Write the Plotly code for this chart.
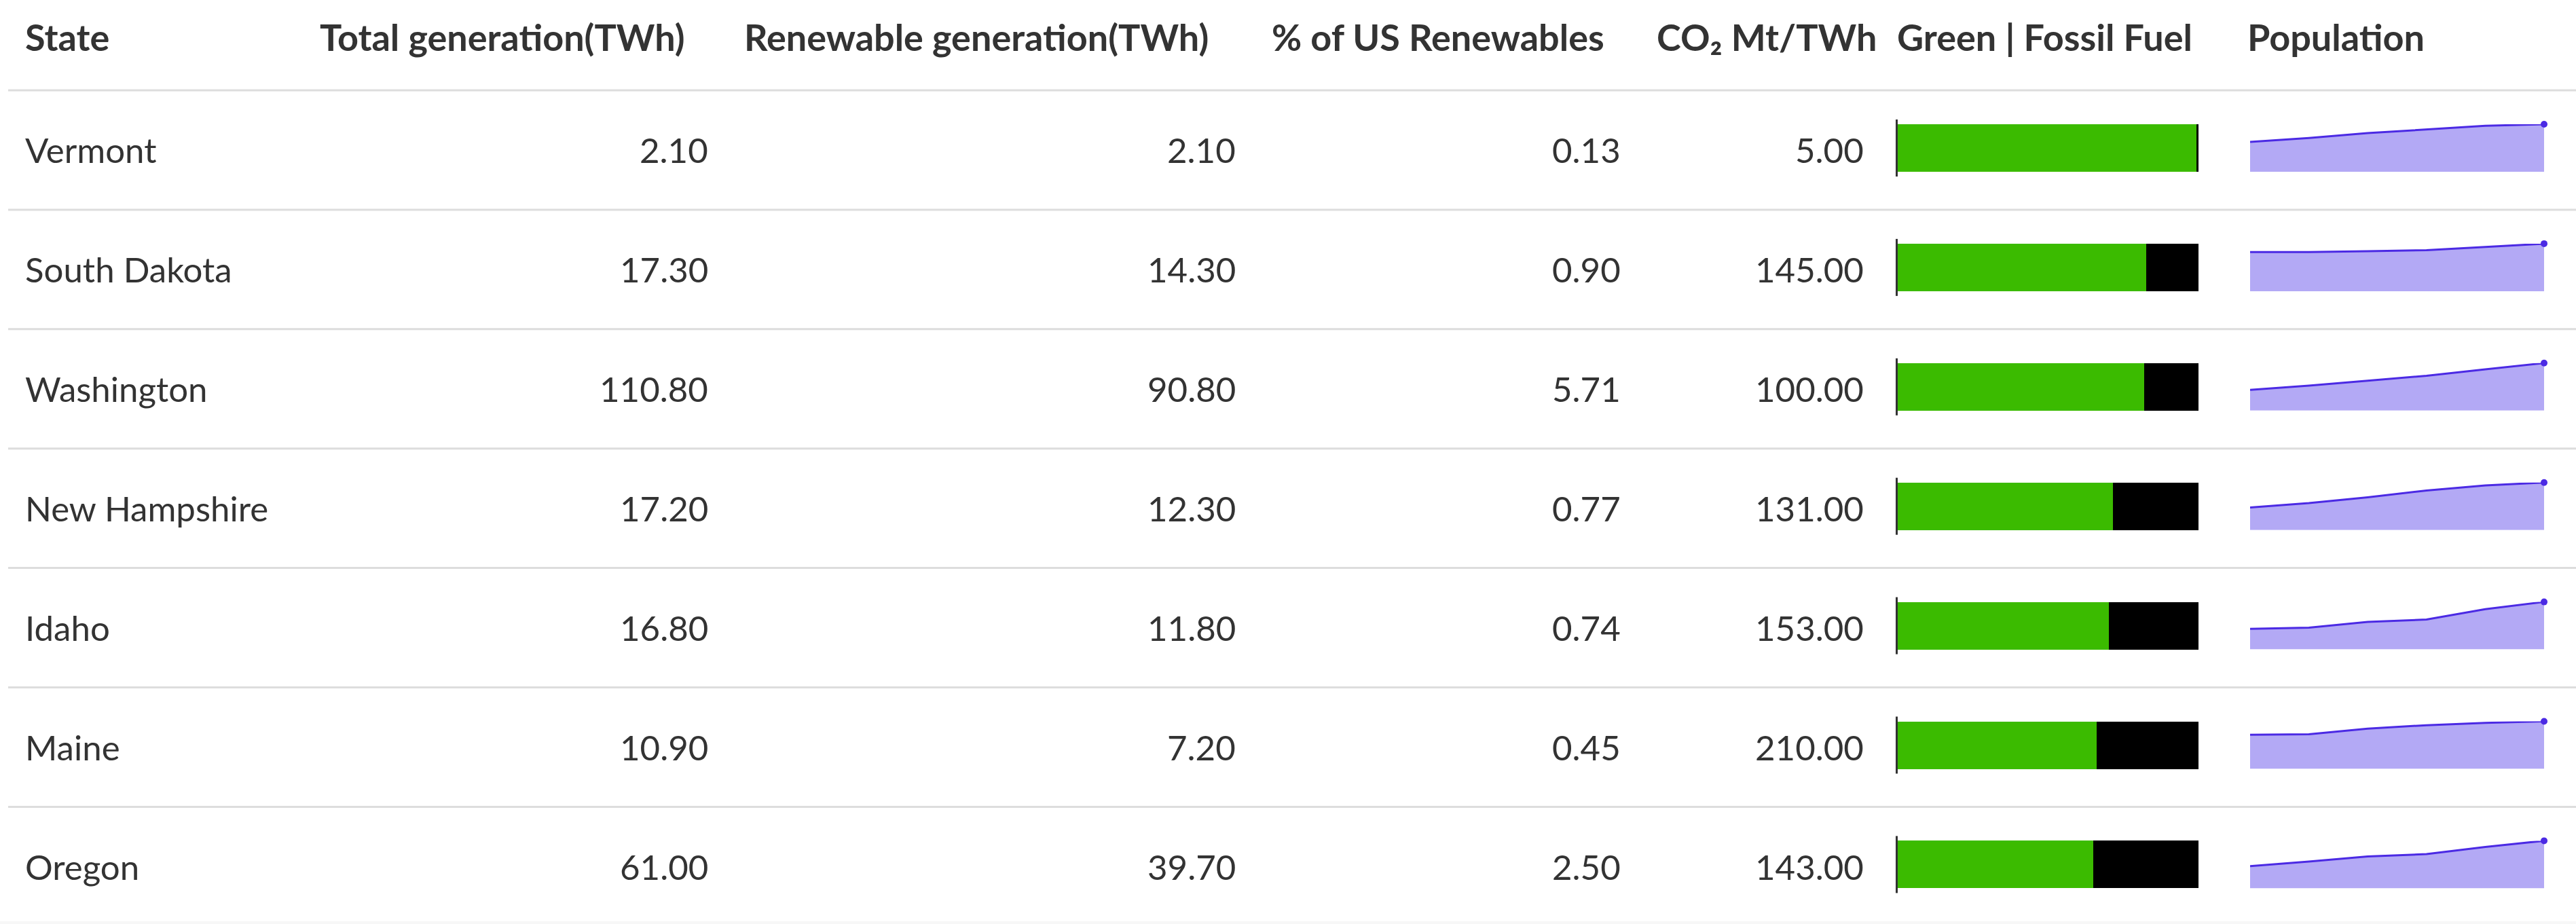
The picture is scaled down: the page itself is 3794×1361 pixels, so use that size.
import plotly.graph_objects as go

# ---------------- data ----------------
states = ["Vermont", "South Dakota", "Washington", "New Hampshire", "Idaho", "Maine", "Oregon"]
total_generation = [2.10, 17.30, 110.80, 17.20, 16.80, 10.90, 61.00]
renewable_generation = [2.10, 14.30, 90.80, 12.30, 11.80, 7.20, 39.70]
pct_us_renewables = [0.13, 0.90, 5.71, 0.77, 0.74, 0.45, 2.50]
co2_mt_per_twh = [5.00, 145.00, 100.00, 131.00, 153.00, 210.00, 143.00]
green_share = [99.3, 82.7, 82.0, 71.5, 70.2, 66.1, 65.1]
fossil_share = [0.7, 17.3, 18.0, 28.5, 29.8, 33.9, 34.9]

pop_periods = [1, 2, 3, 4, 5, 6]
pop_vermont = [62.9, 71.0, 81.4, 88.6, 96.7, 100.0]
pop_south_dakota = [82.4, 82.4, 84.3, 86.2, 92.9, 100.0]
pop_washington = [43.8, 52.4, 62.9, 73.3, 86.7, 100.0]
pop_new_hampshire = [47.6, 56.7, 69.0, 83.3, 93.8, 100.0]
pop_idaho = [43.3, 45.7, 58.1, 62.9, 84.8, 100.0]
pop_maine = [71.9, 72.9, 84.8, 91.9, 96.7, 100.0]
pop_oregon = [46.7, 56.2, 67.1, 71.9, 87.1, 100.0]

headers = ["State", "Total generation(TWh)", "Renewable generation(TWh)", "% of US Renewables",
           "CO\u2082 Mt/TWh", "Green | Fossil Fuel", "Population"]

# ---------------- layout constants (pixels) ----------------
W, H = 3794, 1361
HEADER_LINE_Y = 133
ROW_H = 175.9
HEADER_TEXT_Y = 54
BAR_OFFSET = 85          # bar centre below row top line
BAR_HALF = 35
header_left = [35, 469, 1094, 1871, 2438, 2792, 3308]
num_right = [1045, 1822, 2389, 2747]
BAR_X0, BAR_X1 = 2795, 3238
SPARK_X0, SPARK_X1 = 3314, 3747

HEAD_FONT = dict(family="Lato, 'Open Sans', sans-serif", size=54, color="#333333", weight=700)
BODY_FONT = dict(family="Lato, 'Open Sans', sans-serif", size=51, color="#333333")
GREEN = "#3bbb00"
FOSSIL = "#000000"
SPARK_LINE = "#4b2ae4"
SPARK_FILL = "#b3a9f5"
RULE = "#dddddd"


def px(x):
    return x / W


def py(y):
    return 1 - y / H


n = len(states)
row_top = [HEADER_LINE_Y + ROW_H * i for i in range(n)]
row_mid = [t + ROW_H / 2 for t in row_top]
bar_mid = [t + BAR_OFFSET for t in row_top]

fig = go.Figure()
annotations = []
shapes = []

# header
for h, xl in zip(headers, header_left):
    annotations.append(dict(text=h, x=px(xl), y=py(HEADER_TEXT_Y), xref="paper", yref="paper",
                            xanchor="left", yanchor="middle", showarrow=False, font=HEAD_FONT))

# rules
shapes.append(dict(type="line", xref="paper", yref="paper", x0=px(12), x1=1,
                   y0=py(HEADER_LINE_Y), y1=py(HEADER_LINE_Y), line=dict(color=RULE, width=3)))
for i in range(1, n):
    yy = row_top[i]
    shapes.append(dict(type="line", xref="paper", yref="paper", x0=px(12), x1=1,
                       y0=py(yy), y1=py(yy), line=dict(color=RULE, width=3)))
shapes.append(dict(type="rect", xref="paper", yref="paper", x0=0, x1=1, y0=0, y1=py(H - 4),
                   line=dict(width=0), fillcolor="#f7f7f7", layer="below"))

# body text cells
num_cols = [total_generation, renewable_generation, pct_us_renewables, co2_mt_per_twh]
for i in range(n):
    ym = py(row_mid[i])
    annotations.append(dict(text=states[i], x=px(header_left[0]), y=ym, xref="paper", yref="paper",
                            xanchor="left", yanchor="middle", showarrow=False, font=BODY_FONT))
    for col, xr in zip(num_cols, num_right):
        annotations.append(dict(text=f"{col[i]:.2f}", x=px(xr), y=ym, xref="paper", yref="paper",
                                xanchor="right", yanchor="middle", showarrow=False, font=BODY_FONT))

# stacked bar column (one categorical axis)
dom_top = py(HEADER_LINE_Y + (BAR_OFFSET - ROW_H / 2))
rows_in_domain = (dom_top * H) / ROW_H
fig.add_trace(go.Bar(y=states, x=green_share, orientation="h", marker=dict(color=GREEN, line=dict(width=0)),
                     width=2 * BAR_HALF / ROW_H, xaxis="x", yaxis="y", hoverinfo="skip"))
fig.add_trace(go.Bar(y=states, x=fossil_share, orientation="h", marker=dict(color=FOSSIL, line=dict(width=0)),
                     width=2 * BAR_HALF / ROW_H, xaxis="x", yaxis="y", hoverinfo="skip"))
hidden = dict(showgrid=False, zeroline=False, showticklabels=False, showline=False, ticks="", fixedrange=True)
layout_axes = {
    "xaxis": dict(domain=[px(BAR_X0), px(BAR_X1)], range=[0, 100], anchor="y", **hidden),
    "yaxis": dict(domain=[0, dom_top], range=[rows_in_domain - 0.5, -0.5], type="category",
                  categoryorder="array", categoryarray=states, anchor="x", **hidden),
}
for i in range(n):
    shapes.append(dict(type="line", xref="paper", yref="paper", x0=px(BAR_X0 - 1.5), x1=px(BAR_X0 - 1.5),
                       y0=py(bar_mid[i] - BAR_HALF - 7), y1=py(bar_mid[i] + BAR_HALF + 7),
                       line=dict(color="#333333", width=3)))

# sparklines
pops = [pop_vermont, pop_south_dakota, pop_washington, pop_new_hampshire, pop_idaho, pop_maine, pop_oregon]
for i, series in enumerate(pops):
    k = i + 2
    xa, ya = f"x{k}", f"y{k}"
    fig.add_trace(go.Scatter(x=pop_periods, y=series, mode="lines", fill="tozeroy",
                             line=dict(color=SPARK_LINE, width=3), fillcolor=SPARK_FILL,
                             xaxis=xa, yaxis=ya, hoverinfo="skip", cliponaxis=False))
    fig.add_trace(go.Scatter(x=[pop_periods[-1]], y=[series[-1]], mode="markers",
                             marker=dict(color=SPARK_LINE, size=10), xaxis=xa, yaxis=ya,
                             hoverinfo="skip", cliponaxis=False))
    layout_axes[f"xaxis{k}"] = dict(domain=[px(SPARK_X0), px(SPARK_X1)], range=[pop_periods[0], pop_periods[-1]],
                                    anchor=ya, **hidden)
    layout_axes[f"yaxis{k}"] = dict(domain=[py(bar_mid[i] + BAR_HALF), py(bar_mid[i] - BAR_HALF)],
                                    range=[0, 100], anchor=xa, **hidden)

fig.update_layout(
    width=W, height=H, margin=dict(l=0, r=0, t=0, b=0),
    paper_bgcolor="white", plot_bgcolor="rgba(0,0,0,0)",
    showlegend=False, barmode="stack", bargap=0,
    annotations=annotations, shapes=shapes,
    **layout_axes,
)

fig.write_html("out.html", config={"displayModeBar": False, "staticPlot": True},
               post_script="document.body.style.margin='0';document.body.style.overflow='hidden';")
